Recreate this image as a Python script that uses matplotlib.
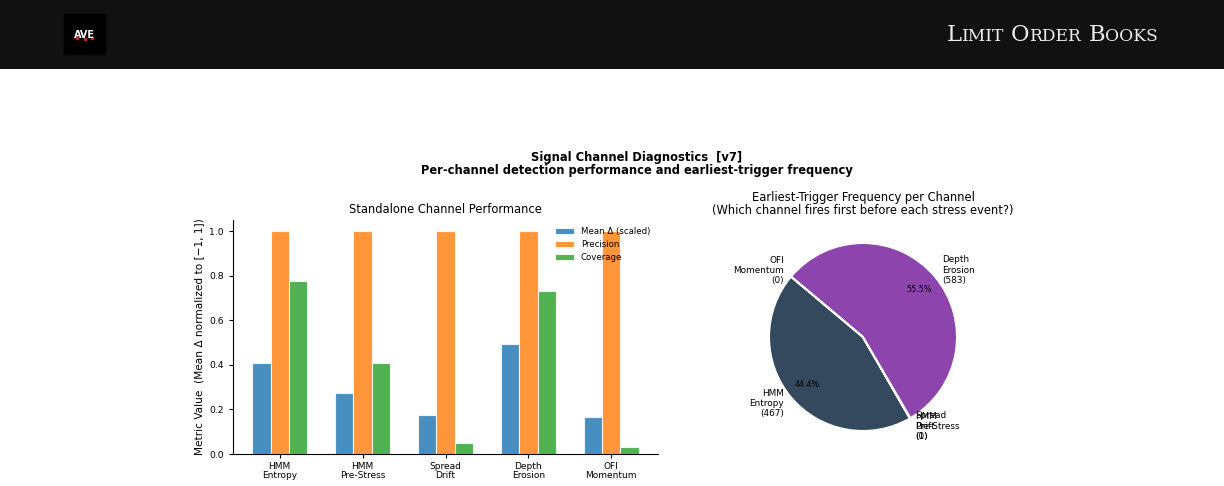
import matplotlib
matplotlib.use("Agg")
import matplotlib.pyplot as plt
import numpy as np

# ---- data ----
channels = ["HMM\nEntropy", "HMM\nPre-Stress", "Spread\nDrift", "Depth\nErosion", "OFI\nMomentum"]
mean_delta = [0.41, 0.275, 0.175, 0.495, 0.165]
precision = [1.0, 1.0, 1.0, 1.0, 1.0]
coverage = [0.775, 0.41, 0.048, 0.733, 0.033]
first_trigger = [467, 1, 0, 583, 0]
pie_colors = ["#34495e", "#e74c3c", "#f39c12", "#8e44ad", "#27ae60"]
series_names = ["Mean Δ (scaled)", "Precision", "Coverage"]
series_colors = ["#1f77b4", "#ff7f0e", "#2ca02c"]

W, H = 1224, 486
fig = plt.figure(figsize=(W / 100, H / 100), dpi=100)
fig.patch.set_facecolor("white")

def px(x0, y0, w, h):
    # x0,y0 = top-left in pixels
    return [x0 / W, 1 - (y0 + h) / H, w / W, h / H]

# ---- header bar ----
hdr = fig.add_axes(px(0, 0, W, 69))
hdr.set_facecolor("#111111")
hdr.set_xlim(0, W); hdr.set_ylim(69, 0)
hdr.set_xticks([]); hdr.set_yticks([])
for s in hdr.spines.values():
    s.set_visible(False)
hdr.add_patch(plt.Rectangle((64, 14), 41, 40, color="black"))
hdr.text(84.5, 35, "AVE", color="white", fontsize=7, fontweight="bold",
         ha="center", va="center", family="DejaVu Sans")
hdr.plot([77, 84.5, 92], [38, 39, 38], "o", color="#cc2222", ms=1.6)

# small caps title built from pieces
fig.canvas.draw()
renderer = fig.canvas.get_renderer()
title_words = ["Limit", "Order", "Books"]
big, small = 16.3, 12.3
pieces = []
for wi, word in enumerate(title_words):
    pieces.append((word[0], big))
    pieces.append((word[1:].upper(), small))
    if wi < len(title_words) - 1:
        pieces.append((" ", big))
texts = []
widths = []
for s, fs in pieces:
    t = hdr.text(0, 41, s, color="#eeeeee", fontsize=fs, family="DejaVu Serif",
                 ha="left", va="baseline")
    bb = t.get_window_extent(renderer)
    texts.append(t); widths.append(bb.width)
total = sum(widths)
x = 1158 - total
for t, w in zip(texts, widths):
    t.set_x(x)
    x += w

# ---- suptitle ----
sx = 637 / W
fig.text(sx, 1 - 157 / H, "Signal Channel Diagnostics  [v7]", ha="center", va="center",
         fontsize=8.3, fontweight="bold")
fig.text(sx, 1 - 170.5 / H, "Per-channel detection performance and earliest-trigger frequency",
         ha="center", va="center", fontsize=8.3, fontweight="bold")

# ---- bar chart ----
ax = fig.add_axes(px(233, 220, 425, 234))
x = np.arange(len(channels))
wbar = 0.22
for i, (vals, name, col) in enumerate(zip([mean_delta, precision, coverage], series_names, series_colors)):
    ax.bar(x + (i - 1) * wbar, vals, wbar, color=col, alpha=0.82, edgecolor="white",
           linewidth=0.8, label=name)
ax.set_xticks(x)
ax.set_xticklabels(channels, fontsize=6.5, linespacing=1.0)
ax.tick_params(axis="y", labelsize=6.7, length=3)
ax.tick_params(axis="x", length=3, pad=2.5)
ax.set_ylabel("Metric Value  (Mean Δ normalized to [−1, 1])", fontsize=7.6)
ax.set_title("Standalone Channel Performance", fontsize=8.3, pad=5)
ax.spines["top"].set_visible(False)
ax.spines["right"].set_visible(False)
ax.legend(loc="upper right", fontsize=6.2, frameon=False, handlelength=2.2,
          labelspacing=0.45, bbox_to_anchor=(1.0, 1.003))

# ---- pie ----
r = 94
side = 2.5 * r
ax2 = fig.add_axes(px(863 - side / 2, 337 - side / 2, side, side))
labels = [c + "\n(%d)" % n for c, n in zip(channels, first_trigger)]
def autopct(p):
    return "%.1f%%" % p if p > 1 else ""
wedges, ltexts, ptexts = ax2.pie(first_trigger, labels=labels, colors=pie_colors,
                                 startangle=140, autopct=autopct, pctdistance=0.78,
                                 labeldistance=1.1,
                                 wedgeprops=dict(edgecolor="white", linewidth=1.5),
                                 textprops=dict(fontsize=6.4))
for t in ptexts:
    t.set_fontsize(5.8)
ax2.set_title("Earliest-Trigger Frequency per Channel\n(Which channel fires first before each stress event?)",
              fontsize=8.3, pad=3.8, linespacing=1.05)

fig.savefig("out.png", dpi=100)
